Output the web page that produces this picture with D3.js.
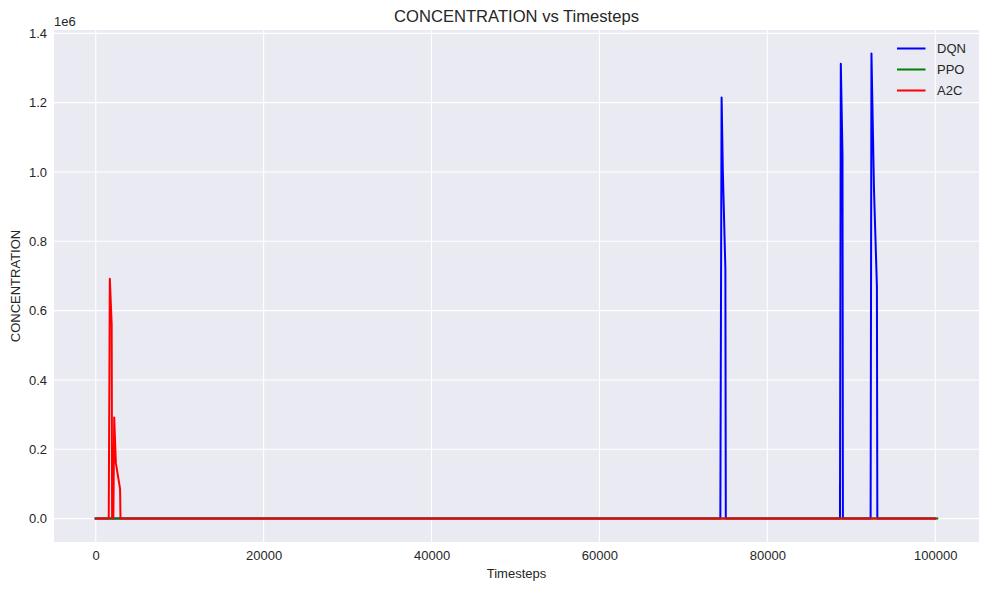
<!DOCTYPE html>
<html>
<head>
<meta charset="utf-8">
<script src="https://cdn.jsdelivr.net/npm/d3@7"></script>
<style>
  html, body { margin: 0; padding: 0; background: #ffffff; }
  svg { display: block; font-family: "Liberation Sans", Arial, sans-serif; }
</style>
</head>
<body>
<svg id="chart" width="989" height="590"></svg>
<script>
// ---- data ----
const seriesNames = ["DQN", "PPO", "A2C"];
const seriesColors = ["#0000ff", "#008000", "#ff0000"];

const dqnSteps  = [0, 74400, 74550, 74700, 75000, 75050, 88650, 88750, 88950, 89000, 92300, 92400, 92700, 93050, 93100, 100000];
const dqnValues = [0, 0, 1215000, 1000000, 720000, 0, 0, 1312000, 1050000, 0, 0, 1342000, 950000, 670000, 0, 0];

const ppoSteps  = [0, 100240];
const ppoValues = [0, 0];

const a2cSteps  = [0, 1550, 1680, 1900, 1950, 2100, 2200, 2400, 2900, 2950, 100000];
const a2cValues = [0, 0, 692000, 560000, 0, 0, 292000, 160000, 86000, 0, 0];

const xTicks = [0, 20000, 40000, 60000, 80000, 100000];
const yTicks = [0, 0.2e6, 0.4e6, 0.6e6, 0.8e6, 1.0e6, 1.2e6, 1.4e6];

const titleText = "CONCENTRATION vs Timesteps";
const xLabelText = "Timesteps";
const yLabelText = "CONCENTRATION";

// ---- layout ----
const svg = d3.select("#chart");
const plot = { left: 54, top: 30, right: 979, bottom: 542 };

const x = d3.scaleLinear().domain([-4970, 105210]).range([plot.left, plot.right]);
const y = d3.scaleLinear().domain([-67500, 1409600]).range([plot.bottom, plot.top]);

// background
svg.append("rect")
  .attr("x", plot.left).attr("y", plot.top)
  .attr("width", plot.right - plot.left).attr("height", plot.bottom - plot.top)
  .attr("fill", "#eaeaf2");

// grid
const grid = svg.append("g");
grid.selectAll(".gx").data(xTicks).enter().append("line")
  .attr("x1", d => x(d)).attr("x2", d => x(d))
  .attr("y1", plot.top).attr("y2", plot.bottom)
  .attr("stroke", "#ffffff").attr("stroke-width", 1.1);
grid.selectAll(".gy").data(yTicks).enter().append("line")
  .attr("y1", d => y(d)).attr("y2", d => y(d))
  .attr("x1", plot.left).attr("x2", plot.right)
  .attr("stroke", "#ffffff").attr("stroke-width", 1.1);

// axes (via d3 axis generators, domain lines hidden)
const xAxis = d3.axisBottom(x).tickValues(xTicks).tickSize(0).tickPadding(9)
  .tickFormat(d3.format("d"));
const gx = svg.append("g").attr("transform", `translate(0,${plot.bottom})`).call(xAxis);
gx.select(".domain").remove();
gx.selectAll("text").attr("font-size", 13).attr("fill", "#262626")
  .attr("font-family", "Liberation Sans, Arial, sans-serif");

const yAxis = d3.axisLeft(y).tickValues(yTicks).tickSize(0).tickPadding(7)
  .tickFormat(d => (d / 1e6).toFixed(1));
const gy = svg.append("g").attr("transform", `translate(${plot.left},0)`).call(yAxis);
gy.select(".domain").remove();
gy.selectAll("text").attr("font-size", 13).attr("fill", "#262626")
  .attr("font-family", "Liberation Sans, Arial, sans-serif");

// offset text
svg.append("text").attr("x", plot.left).attr("y", 26)
  .attr("font-size", 13).attr("fill", "#262626").text("1e6");

// clip
svg.append("clipPath").attr("id", "clip").append("rect")
  .attr("x", plot.left).attr("y", plot.top)
  .attr("width", plot.right - plot.left).attr("height", plot.bottom - plot.top);

const line = d3.line().x(d => x(d[0])).y(d => y(d[1]));
const seriesData = [
  d3.zip(dqnSteps, dqnValues),
  d3.zip(ppoSteps, ppoValues),
  d3.zip(a2cSteps, a2cValues)
];
const lines = svg.append("g").attr("clip-path", "url(#clip)");
seriesData.forEach((data, i) => {
  lines.append("path").datum(data)
    .attr("d", line)
    .attr("fill", "none")
    .attr("stroke", seriesColors[i])
    .attr("stroke-width", 2)
    .attr("stroke-linejoin", "round")
    .attr("stroke-linecap", "square");
});

// title and labels
svg.append("text").attr("x", (plot.left + plot.right) / 2).attr("y", 22)
  .attr("text-anchor", "middle").attr("font-size", 16.6).attr("fill", "#262626")
  .text(titleText);
svg.append("text").attr("x", (plot.left + plot.right) / 2).attr("y", 578)
  .attr("text-anchor", "middle").attr("font-size", 13).attr("fill", "#262626")
  .text(xLabelText);
svg.append("text")
  .attr("transform", `translate(20,${(plot.top + plot.bottom) / 2}) rotate(-90)`)
  .attr("text-anchor", "middle").attr("font-size", 13).attr("fill", "#262626")
  .text(yLabelText);

// legend
const legend = svg.append("g").attr("transform", "translate(897,48.5)");
seriesNames.forEach((name, i) => {
  const g = legend.append("g").attr("transform", `translate(0,${i * 21})`);
  g.append("line").attr("x1", 0).attr("x2", 28.5).attr("y1", 0).attr("y2", 0)
    .attr("stroke", seriesColors[i]).attr("stroke-width", 2);
  g.append("text").attr("x", 40).attr("y", 0).attr("dy", "0.35em")
    .attr("font-size", 13).attr("fill", "#262626").text(name);
});
</script>
</body>
</html>
